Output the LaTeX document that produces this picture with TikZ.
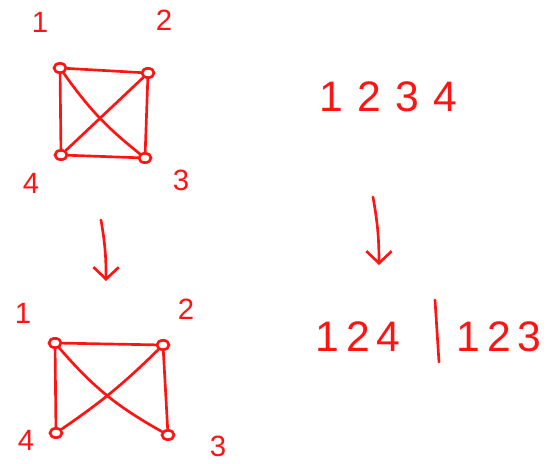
\documentclass[tikz,border=0pt]{standalone}
\usepackage{fontspec}
\setmainfont{Liberation Sans}
\usetikzlibrary{arrows.meta,positioning,shapes.geometric}
\definecolor{pen}{HTML}{FF1414}
\begin{document}
\begin{tikzpicture}[x=0.75pt,y=-0.75pt,>={Straight Barb[length=9pt,width=19pt,line width=2pt]},
 vert/.style={draw=pen,line width=2pt,ellipse,minimum width=9pt,minimum height=7pt,inner sep=0pt},
 stroke/.style={pen,line width=2pt,line cap=round},
 lbl/.style={text=pen,font=\fontsize{22}{22}\selectfont},
 big/.style={text=pen,font=\fontsize{32}{32}\selectfont}]
 \useasboundingbox (0,0) rectangle (547,464);
 % top graph, all edges
 \foreach \n/\x/\y in {1/60/68,2/148/73,3/145/158,4/61/155}
  \node[vert] (t\n) at (\x,\y) {};
 \foreach \n/\x/\y in {1/40/22,2/164/20,3/181/180,4/31/183}
  \node[lbl] (tl\n) at (\x,\y) {\n};
 \draw[stroke] (t1) -- (t2);
 \draw[stroke] (t2) -- (t3);
 \draw[stroke] (t4) -- (t3);
 \draw[stroke] (t1) -- (t4);
 \draw[stroke] (t1) to[bend right=8] (t3);
 \draw[stroke] (t2) -- (t4);
 % arrows
 \coordinate (la) at (101,220); \coordinate (lb) at (106,281);
 \draw[stroke,->] (la) to[bend left=5] (lb);
 \coordinate (ra) at (373,197); \coordinate (rb) at (379,265);
 \draw[stroke,->] (ra) to[bend left=5] (rb);
 % bottom graph, 3--4 removed
 \foreach \n/\x/\y in {1/55/343,2/163/345,3/168/435,4/56/433}
  \node[vert] (b\n) at (\x,\y) {};
 \foreach \n/\x/\y in {1/23/313,2/186/309,3/218/446,4/26/440}
  \node[lbl] (bl\n) at (\x,\y) {\n};
 \draw[stroke] (b1) -- (b2);
 \draw[stroke] (b2) -- (b3);
 \draw[stroke] (b1) -- (b4);
 \draw[stroke] (b1) to[bend right=10] (b3);
 \draw[stroke] (b2) to[bend left=5] (b4);
 % orders
 \node[big] (ord) at (388,97) {1\,\,2\,\,3\,\,4};
 \node[big] (left) at (358,337) {1\,2\,4};
 \node[big] (right) at (499,337) {1\,2\,3};
 \coordinate (bart) at (435,300); \coordinate (barb) at (439,362);
 \draw[stroke] (bart) -- (barb);
\end{tikzpicture}
\end{document}
